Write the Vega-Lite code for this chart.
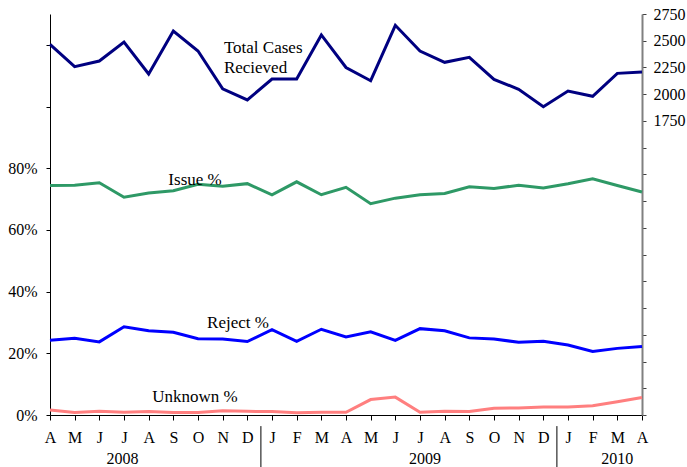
{
  "$schema": "https://vega.github.io/schema/vega-lite/v6.json",
  "width": 592,
  "height": 401,
  "autosize": {"type": "none"},
  "padding": {"left": 50, "top": 14, "right": 45, "bottom": 52},
  "background": "white",
  "config": {
    "view": {"stroke": null},
    "font": "Liberation Serif",
    "style": {"guide-label": {"font": "Liberation Serif", "fontSize": 16, "fill": "black"}},
    "axis": {"grid": false, "labelFont": "Liberation Serif", "labelFontSize": 16, "labelColor": "black", "domainColor": "black", "tickColor": "black", "title": null}
  },
  "datasets": {
    "months": [
      {"idx": 0, "total": 2466, "issue": 74.4, "reject": 24.2, "unknown": 1.6},
      {"idx": 1, "total": 2257, "issue": 74.5, "reject": 24.9, "unknown": 0.8},
      {"idx": 2, "total": 2310, "issue": 75.3, "reject": 23.7, "unknown": 1.2},
      {"idx": 3, "total": 2488, "issue": 70.6, "reject": 28.6, "unknown": 0.9},
      {"idx": 4, "total": 2189, "issue": 72.0, "reject": 27.3, "unknown": 1.1},
      {"idx": 5, "total": 2591, "issue": 72.7, "reject": 26.8, "unknown": 0.8},
      {"idx": 6, "total": 2404, "issue": 74.8, "reject": 24.7, "unknown": 0.8},
      {"idx": 7, "total": 2051, "issue": 74.2, "reject": 24.6, "unknown": 1.35},
      {"idx": 8, "total": 1946, "issue": 75.0, "reject": 23.8, "unknown": 1.2},
      {"idx": 9, "total": 2142, "issue": 71.4, "reject": 27.7, "unknown": 1.1},
      {"idx": 10, "total": 2142, "issue": 75.6, "reject": 23.9, "unknown": 0.7},
      {"idx": 11, "total": 2554, "issue": 71.4, "reject": 27.8, "unknown": 0.9},
      {"idx": 12, "total": 2250, "issue": 73.8, "reject": 25.3, "unknown": 0.9},
      {"idx": 13, "total": 2126, "issue": 68.5, "reject": 27.0, "unknown": 5.0},
      {"idx": 14, "total": 2644, "issue": 70.3, "reject": 24.2, "unknown": 5.8},
      {"idx": 15, "total": 2404, "issue": 71.4, "reject": 28.0, "unknown": 0.9},
      {"idx": 16, "total": 2298, "issue": 71.8, "reject": 27.3, "unknown": 1.2},
      {"idx": 17, "total": 2345, "issue": 74.0, "reject": 25.0, "unknown": 1.1},
      {"idx": 18, "total": 2139, "issue": 73.4, "reject": 24.6, "unknown": 2.2},
      {"idx": 19, "total": 2046, "issue": 74.5, "reject": 23.6, "unknown": 2.3},
      {"idx": 20, "total": 1883, "issue": 73.6, "reject": 23.9, "unknown": 2.6},
      {"idx": 21, "total": 2030, "issue": 75.0, "reject": 22.7, "unknown": 2.6},
      {"idx": 22, "total": 1980, "issue": 76.6, "reject": 20.6, "unknown": 3.0},
      {"idx": 23, "total": 2195, "issue": 74.4, "reject": 21.6, "unknown": 4.3},
      {"idx": 24, "total": 2208, "issue": 72.3, "reject": 22.2, "unknown": 5.7}
    ],
    "pctLabels": [
      {"idx": 5.88, "v": 74.7, "text": "Issue %"},
      {"idx": 7.62, "v": 28.1, "text": "Reject %"},
      {"idx": 5.88, "v": 4.15, "text": "Unknown %"}
    ],
    "years": [
      {"idx": 2.94, "v": -16, "text": "2008"},
      {"idx": 15.2, "v": -16, "text": "2009"},
      {"idx": 23.0, "v": -16, "text": "2010"}
    ],
    "separators": [
      {"idx": 8.55, "v": -3.6, "v2": -17.5},
      {"idx": 20.55, "v": -3.6, "v2": -17.5}
    ],
    "totalLabels": [
      {"idx": 7.05, "total": 2382, "text": "Total Cases"},
      {"idx": 7.05, "total": 2195, "text": "Recieved"}
    ]
  },
  "encoding": {
    "x": {
      "field": "idx",
      "type": "quantitative",
      "scale": {"domain": [0, 24], "nice": false, "zero": false},
      "axis": {
        "values": [0,1,2,3,4,5,6,7,8,9,10,11,12,13,14,15,16,17,18,19,20,21,22,23,24],
        "labelExpr": "['A','M','J','J','A','S','O','N','D','J','F','M'][datum.value % 12]",
        "labelFont": "Liberation Serif",
        "tickSize": 5,
        "labelPadding": 9,
        "labelFlush": false,
        "labelOverlap": false,
        "title": null
      }
    }
  },
  "layer": [
    {
      "encoding": {
        "y": {
          "field": "v",
          "type": "quantitative",
          "scale": {"domain": [0, 130], "nice": false, "zero": false},
          "axis": {
            "values": [0, 20, 40, 60, 80, 100, 120],
            "labelExpr": "datum.value <= 80 ? datum.value + '%' : ''",
            "labelFont": "Liberation Serif",
            "labelFontSize": 16,
            "labelOverlap": false,
            "tickSize": 4,
            "labelPadding": 9,
            "title": null
          }
        }
      },
      "layer": [
        {
          "data": {"name": "months"},
          "transform": [{"fold": ["issue", "reject", "unknown"], "as": ["key", "v"]}],
          "mark": {"type": "line", "strokeWidth": 3},
          "encoding": {
            "color": {
              "field": "key",
              "type": "nominal",
              "scale": {"domain": ["issue", "reject", "unknown"], "range": ["#2E9966", "#0000FF", "#FF7F7F"]},
              "legend": null
            }
          }
        },
        {
          "data": {"name": "pctLabels"},
          "mark": {"type": "text", "align": "center", "baseline": "alphabetic", "fontSize": 17, "font": "Liberation Serif", "color": "black"},
          "encoding": {
            "text": {"field": "text"}
          }
        },
        {
          "data": {"name": "years"},
          "mark": {"type": "text", "align": "center", "baseline": "alphabetic", "fontSize": 16, "font": "Liberation Serif", "color": "black"},
          "encoding": {
            "text": {"field": "text"}
          }
        },
        {
          "data": {"name": "separators"},
          "mark": {"type": "rule", "color": "black", "strokeWidth": 1},
          "encoding": {
            "y2": {"field": "v2"}
          }
        }
      ]
    },
    {
      "encoding": {
        "y": {
          "field": "total",
          "type": "quantitative",
          "scale": {"domain": [-1000, 2750], "nice": false, "zero": false},
          "axis": {
            "orient": "right",
            "values": [-1000, -750, -500, -250, 0, 250, 500, 750, 1000, 1250, 1500, 1750, 2000, 2250, 2500, 2750],
            "format": "d",
            "labelExpr": "datum.value >= 1750 ? datum.label : ''",
            "labelFont": "Liberation Serif",
            "labelFontSize": 16,
            "labelOverlap": false,
            "domainColor": "#808080",
            "domainWidth": 2,
            "tickColor": "#404040",
            "tickSize": 4,
            "labelPadding": 7,
            "title": null
          }
        }
      },
      "layer": [
        {
          "data": {"name": "months"},
          "mark": {"type": "line", "strokeWidth": 3, "color": "#000080"}
        },
        {
          "data": {"name": "totalLabels"},
          "mark": {"type": "text", "align": "left", "baseline": "alphabetic", "fontSize": 17, "font": "Liberation Serif", "color": "black"},
          "encoding": {
            "text": {"field": "text"}
          }
        }
      ]
    }
  ],
  "resolve": {"scale": {"y": "independent"}}
}
